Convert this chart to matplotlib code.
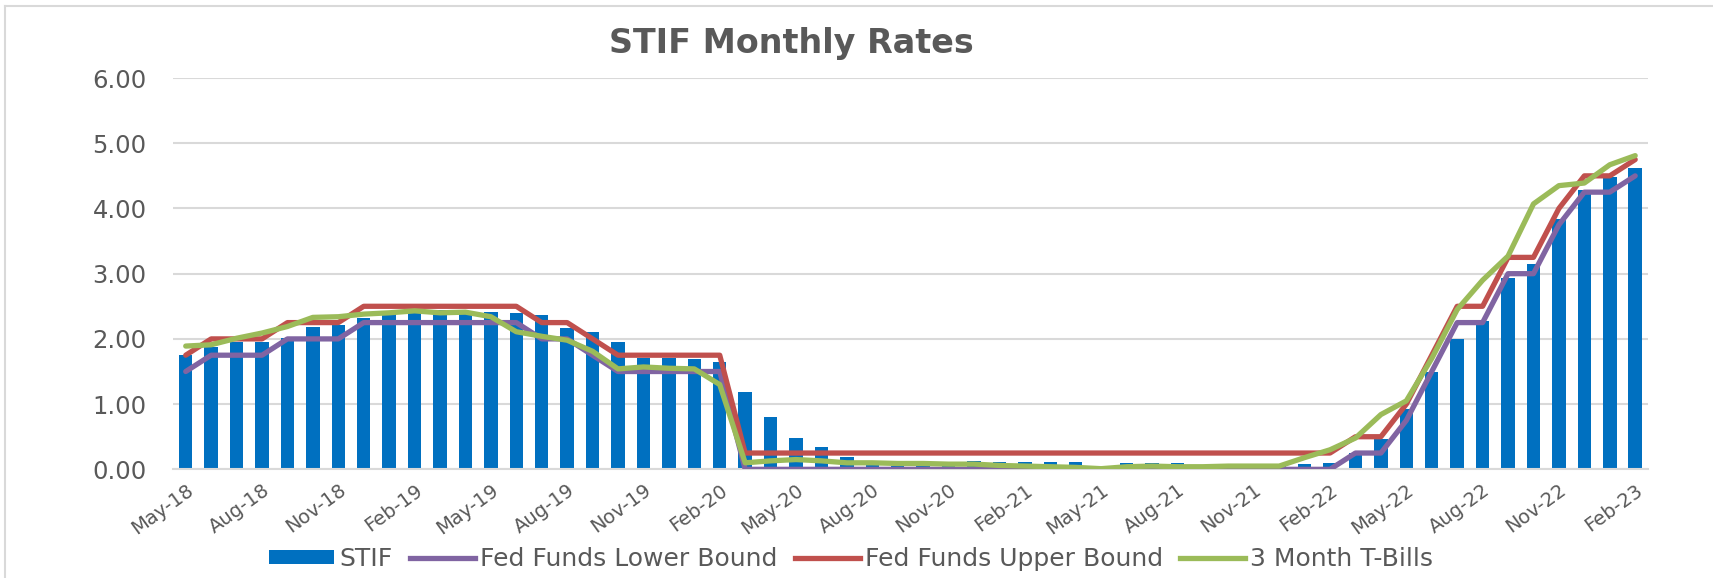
import matplotlib
matplotlib.use("Agg")
import matplotlib.pyplot as plt
from matplotlib.patches import Patch
from matplotlib.lines import Line2D

months = ["May-18", "Jun-18", "Jul-18", "Aug-18", "Sep-18", "Oct-18", "Nov-18", "Dec-18",
          "Jan-19", "Feb-19", "Mar-19", "Apr-19", "May-19", "Jun-19", "Jul-19", "Aug-19",
          "Sep-19", "Oct-19", "Nov-19", "Dec-19", "Jan-20", "Feb-20", "Mar-20", "Apr-20",
          "May-20", "Jun-20", "Jul-20", "Aug-20", "Sep-20", "Oct-20", "Nov-20", "Dec-20",
          "Jan-21", "Feb-21", "Mar-21", "Apr-21", "May-21", "Jun-21", "Jul-21", "Aug-21",
          "Sep-21", "Oct-21", "Nov-21", "Dec-21", "Jan-22", "Feb-22", "Mar-22", "Apr-22",
          "May-22", "Jun-22", "Jul-22", "Aug-22", "Sep-22", "Oct-22", "Nov-22", "Dec-22",
          "Jan-23", "Feb-23"]

stif = [1.76, 1.87, 1.96, 1.96, 2.01, 2.18, 2.21, 2.32,
        2.43, 2.40, 2.45, 2.42, 2.42, 2.40, 2.37, 2.16,
        2.10, 1.96, 1.70, 1.70, 1.69, 1.64, 1.18, 0.80,
        0.48, 0.34, 0.19, 0.06, 0.05, 0.05, 0.05, 0.13,
        0.12, 0.12, 0.12, 0.11, 0.02, 0.10, 0.09, 0.09,
        0.05, 0.05, 0.06, 0.08, 0.08, 0.10, 0.25, 0.47,
        0.92, 1.49, 2.00, 2.27, 2.93, 3.15, 3.84, 4.29,
        4.49, 4.62]

ff_lower = [1.50, 1.75, 1.75, 1.75, 2.00, 2.00, 2.00, 2.25,
            2.25, 2.25, 2.25, 2.25, 2.25, 2.25, 2.00, 2.00,
            1.75, 1.50, 1.50, 1.50, 1.50, 1.50, 0.00, 0.00,
            0.00, 0.00, 0.00, 0.00, 0.00, 0.00, 0.00, 0.00,
            0.00, 0.00, 0.00, 0.00, 0.00, 0.00, 0.00, 0.00,
            0.00, 0.00, 0.00, 0.00, 0.00, 0.00, 0.25, 0.25,
            0.75, 1.50, 2.25, 2.25, 3.00, 3.00, 3.75, 4.25,
            4.25, 4.50]

ff_upper = [1.75, 2.00, 2.00, 2.00, 2.25, 2.25, 2.25, 2.50,
            2.50, 2.50, 2.50, 2.50, 2.50, 2.50, 2.25, 2.25,
            2.00, 1.75, 1.75, 1.75, 1.75, 1.75, 0.25, 0.25,
            0.25, 0.25, 0.25, 0.25, 0.25, 0.25, 0.25, 0.25,
            0.25, 0.25, 0.25, 0.25, 0.25, 0.25, 0.25, 0.25,
            0.25, 0.25, 0.25, 0.25, 0.25, 0.25, 0.50, 0.50,
            1.00, 1.75, 2.50, 2.50, 3.25, 3.25, 4.00, 4.50,
            4.50, 4.75]

tbills = [1.89, 1.91, 2.01, 2.09, 2.19, 2.33, 2.34, 2.38,
          2.40, 2.43, 2.40, 2.41, 2.34, 2.11, 2.04, 1.98,
          1.81, 1.54, 1.57, 1.55, 1.54, 1.30, 0.10, 0.13,
          0.15, 0.13, 0.10, 0.10, 0.09, 0.09, 0.08, 0.08,
          0.06, 0.05, 0.04, 0.03, 0.01, 0.04, 0.05, 0.04,
          0.04, 0.05, 0.05, 0.05, 0.18, 0.30, 0.48, 0.84,
          1.05, 1.70, 2.45, 2.90, 3.27, 4.07, 4.35, 4.39,
          4.67, 4.81]

gray = "#595959"
c_stif = "#0070C0"
c_low = "#8064A2"
c_up = "#C0504D"
c_tb = "#9BBB59"

fig = plt.figure(figsize=(17.13, 5.78), dpi=100)
ax = fig.add_axes([0.101, 0.188, 0.861, 0.677])

x = list(range(len(months)))
ax.bar(x, stif, width=0.53, color=c_stif, zorder=2)
lw = 3.8
for vals, col in [(ff_lower, c_low), (ff_upper, c_up), (tbills, c_tb)]:
    ax.plot(x, vals, color=col, lw=lw, solid_joinstyle="round",
            solid_capstyle="round", zorder=3)

ax.set_xlim(-0.5, len(months) - 0.5)
ax.set_ylim(0, 6)
ax.set_yticks([0, 1, 2, 3, 4, 5, 6])
ax.set_yticklabels([f"{v:.2f}" for v in range(7)])
ax.yaxis.grid(True, color="#D9D9D9", lw=1.5, zorder=0)
ax.set_axisbelow(True)
for s in ["top", "right", "left"]:
    ax.spines[s].set_visible(False)
ax.spines["bottom"].set_color("#D9D9D9")
ax.spines["bottom"].set_linewidth(1.5)
ax.tick_params(axis="both", length=0, colors=gray)
ax.tick_params(axis="y", labelsize=17.5, pad=19)

ax.set_xticks(x[::3])
ax.set_xticklabels(months[::3], rotation=36, ha="right", va="top",
                   rotation_mode="anchor", fontsize=14, color=gray)
ax.tick_params(axis="x", pad=8)

fig.text(0.462, 0.925, "STIF Monthly Rates", ha="center", va="center",
         fontsize=24, fontweight="bold", color=gray)

handles = [Patch(facecolor=c_stif, edgecolor="none"),
           Line2D([], [], color=c_low, lw=lw),
           Line2D([], [], color=c_up, lw=lw),
           Line2D([], [], color=c_tb, lw=lw)]
labels = ["STIF", "Fed Funds Lower Bound", "Fed Funds Upper Bound", "3 Month T-Bills"]
leg = fig.legend(handles, labels, loc="center", bbox_to_anchor=(0.497, 0.033),
                 ncol=4, frameon=False, fontsize=18, handlelength=2.6,
                 handleheight=0.45, handletextpad=0.2, columnspacing=0.7)
for t in leg.get_texts():
    t.set_color(gray)

# chart border (left and top edges visible in the reference)
fig.add_artist(Line2D([0.003, 0.003], [0, 0.99], color="#D9D9D9", lw=1.5,
                      transform=fig.transFigure))
fig.add_artist(Line2D([0.003, 1.0], [0.99, 0.99], color="#D9D9D9", lw=1.5,
                      transform=fig.transFigure))

fig.savefig("out.png", dpi=100)
